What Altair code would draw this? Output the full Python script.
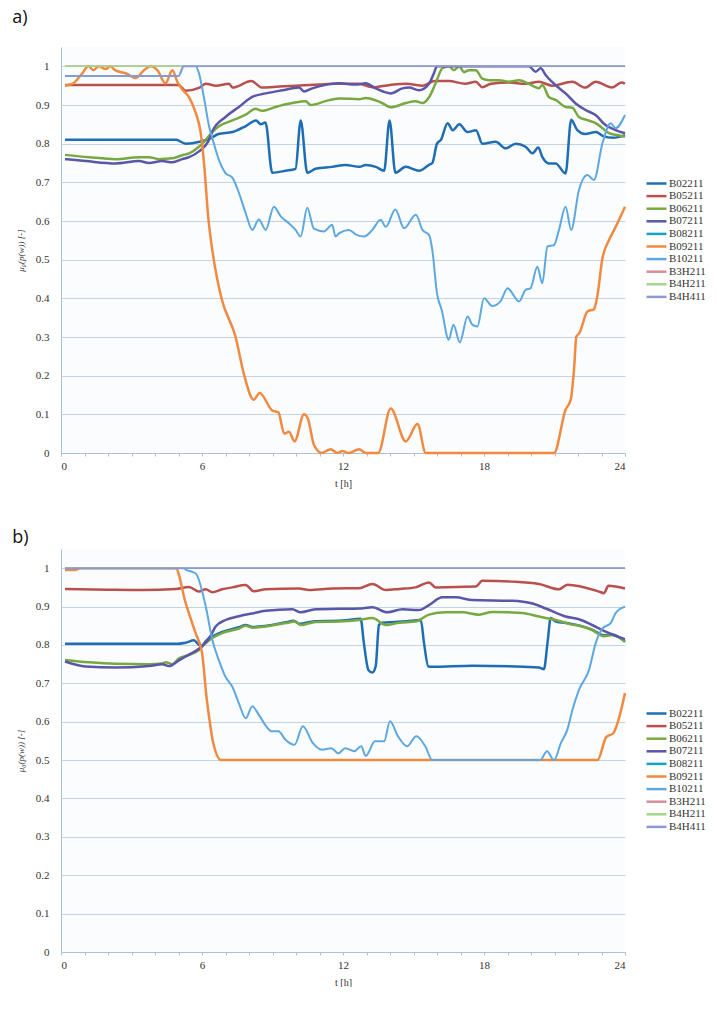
import altair as alt
import pandas as pd

SERIES = ["B02211", "B05211", "B06211", "B07211", "B08211",
          "B09211", "B10211", "B3H211", "B4H211", "B4H411"]
COLORS = ["#1f6db3", "#b9504c", "#78a840", "#5a56a8", "#16a3c0",
          "#f08a40", "#5da8e0", "#d58f9c", "#a5d68c", "#8f98d6"]
WIDTHS = [2.5, 2.5, 2.5, 2.5, 1.2, 2.5, 2.0, 1.5, 1.5, 1.5]

Y_TICKS = [0, 0.1, 0.2, 0.3, 0.4, 0.5, 0.6, 0.7, 0.8, 0.9, 1]
X_TICKS = list(range(0, 25))

# ---------------- panel a) ----------------
A_B02211 = [(0.17, 0.81), (4.9, 0.81), (5.3, 0.80), (5.9, 0.805), (6.4, 0.815), (6.7, 0.825),
            (7.3, 0.83), (7.85, 0.845), (8.3, 0.86), (8.5, 0.85), (8.7, 0.855), (8.99, 0.725),
            (9.56, 0.73), (9.98, 0.735), (10.2, 0.86), (10.48, 0.725), (10.83, 0.735), (11.54, 0.74),
            (12.1, 0.745), (12.7, 0.74), (12.97, 0.745), (13.4, 0.74), (13.75, 0.73), (13.98, 0.86),
            (14.23, 0.725), (14.67, 0.74), (15.24, 0.73), (15.66, 0.745), (15.8, 0.75), (16.0, 0.80),
            (16.17, 0.81), (16.45, 0.853), (16.67, 0.835), (16.95, 0.85), (17.3, 0.83), (17.66, 0.835),
            (17.93, 0.80), (18.5, 0.805), (18.92, 0.788), (19.35, 0.80), (19.77, 0.792), (20.06, 0.775),
            (20.31, 0.79), (20.48, 0.766), (20.77, 0.749), (21.05, 0.749), (21.47, 0.723), (21.71, 0.862),
            (21.97, 0.835), (22.3, 0.825), (22.77, 0.83), (23.05, 0.82), (23.5, 0.815), (24.0, 0.822)]
A_B05211 = [(0.17, 0.952), (5.0, 0.952), (5.3, 0.937), (5.9, 0.945), (6.16, 0.955), (6.6, 0.95),
            (7.15, 0.955), (7.3, 0.945), (8.1, 0.962), (8.56, 0.945), (9.3, 0.948), (10.0, 0.95),
            (11.0, 0.953), (11.54, 0.955), (12.68, 0.955), (13.25, 0.946), (14.0, 0.952), (14.7, 0.955),
            (15.4, 0.95), (15.9, 0.962), (16.5, 0.962), (17.2, 0.955), (17.65, 0.96), (17.93, 0.946),
            (18.3, 0.955), (19.06, 0.958), (19.77, 0.955), (20.34, 0.96), (20.9, 0.95), (21.76, 0.96),
            (22.3, 0.945), (22.75, 0.96), (23.45, 0.945), (23.85, 0.958), (24.0, 0.955)]
A_B06211 = [(0.17, 0.771), (1.19, 0.765), (2.32, 0.76), (3.32, 0.765), (3.74, 0.765), (4.17, 0.76),
            (4.74, 0.762), (5.16, 0.77), (5.45, 0.775), (5.87, 0.792), (6.16, 0.81), (6.44, 0.83),
            (6.72, 0.845), (7.29, 0.86), (7.86, 0.875), (8.28, 0.89), (8.56, 0.885), (9.13, 0.895),
            (9.84, 0.905), (10.41, 0.91), (10.62, 0.9), (11.26, 0.91), (11.83, 0.917), (12.68, 0.915),
            (12.96, 0.918), (13.39, 0.912), (13.67, 0.905), (14.03, 0.894), (14.67, 0.905), (15.09, 0.91),
            (15.38, 0.905), (15.66, 0.92), (15.94, 0.956), (16.23, 0.995), (16.51, 1.0), (16.72, 0.99),
            (16.94, 1.0), (17.15, 0.985), (17.36, 0.99), (17.65, 0.99), (17.93, 0.968), (18.21, 0.964),
            (18.64, 0.964), (19.06, 0.96), (19.49, 0.964), (19.91, 0.955), (20.34, 0.943), (20.48, 0.952),
            (20.77, 0.92), (21.05, 0.913), (21.47, 0.895), (21.76, 0.893), (22.04, 0.869), (22.4, 0.861),
            (22.75, 0.853), (23.04, 0.84), (23.32, 0.827), (23.6, 0.823), (24.0, 0.818)]
A_B07211 = [(0.17, 0.76), (1.05, 0.755), (2.32, 0.749), (3.32, 0.755), (3.74, 0.75), (4.31, 0.755),
            (4.74, 0.752), (5.16, 0.76), (5.45, 0.765), (5.87, 0.78), (6.3, 0.81), (6.44, 0.832),
            (7.0, 0.869), (7.57, 0.895), (8.14, 0.921), (8.71, 0.93), (9.42, 0.938), (10.13, 0.945),
            (10.34, 0.935), (10.69, 0.943), (11.26, 0.952), (11.83, 0.956), (12.54, 0.953), (12.96, 0.956),
            (13.39, 0.943), (14.03, 0.93), (14.53, 0.943), (14.81, 0.945), (15.23, 0.938), (15.66, 0.955),
            (15.87, 0.982), (16.0, 1.0), (19.91, 1.0), (20.2, 0.986), (20.41, 0.995), (20.63, 0.977),
            (21.05, 0.951), (21.47, 0.93), (21.9, 0.904), (22.32, 0.887), (22.75, 0.874), (23.17, 0.848),
            (23.6, 0.835), (24.0, 0.827)]
A_B08211 = [(0.17, 1.0), (24.0, 1.0)]
A_B09211 = [(0.17, 0.95), (0.5, 0.955), (0.88, 0.98), (1.17, 1.0), (1.38, 0.99), (1.6, 1.0),
            (1.9, 0.993), (2.1, 1.0), (2.3, 0.99), (2.75, 0.982), (3.18, 0.97), (3.53, 0.99),
            (3.81, 1.0), (4.1, 0.99), (4.45, 0.956), (4.74, 0.99), (4.95, 0.96), (5.16, 0.94),
            (5.45, 0.92), (5.73, 0.88), (5.94, 0.83), (6.1, 0.74), (6.25, 0.62), (6.5, 0.5),
            (6.83, 0.4), (7.43, 0.3), (7.8, 0.2), (8.2, 0.138), (8.45, 0.155), (8.99, 0.11),
            (9.25, 0.105), (9.5, 0.05), (9.7, 0.055), (9.94, 0.03), (10.34, 0.1), (10.5, 0.09),
            (10.77, 0.02), (11.1, 0.0), (11.47, 0.01), (11.76, 0.0), (11.97, 0.005), (12.25, 0.0),
            (12.68, 0.01), (12.97, 0.0), (13.5, 0.0), (14.03, 0.115), (14.67, 0.03), (15.17, 0.075),
            (15.52, 0.0), (20.98, 0.0), (21.47, 0.112), (21.69, 0.138), (21.83, 0.215), (21.93, 0.301),
            (22.06, 0.31), (22.4, 0.366), (22.68, 0.372), (22.82, 0.405), (23.03, 0.5), (23.32, 0.551),
            (23.54, 0.577), (24.0, 0.637)]
A_B10211 = [(0.17, 0.975), (5.0, 0.975), (5.23, 1.0), (5.73, 1.0), (5.87, 0.982), (6.08, 0.92),
            (6.3, 0.845), (6.5, 0.801), (6.72, 0.758), (7.0, 0.724), (7.29, 0.712), (7.57, 0.673),
            (7.86, 0.62), (8.14, 0.577), (8.42, 0.604), (8.71, 0.577), (9.06, 0.637), (9.35, 0.612),
            (9.7, 0.594), (9.98, 0.577), (10.2, 0.56), (10.48, 0.634), (10.76, 0.58), (11.19, 0.573),
            (11.54, 0.59), (11.68, 0.56), (11.83, 0.568), (12.25, 0.577), (12.55, 0.565), (12.9, 0.56),
            (13.25, 0.577), (13.6, 0.603), (13.82, 0.585), (14.23, 0.63), (14.6, 0.581), (15.1, 0.616),
            (15.38, 0.577), (15.66, 0.564), (15.8, 0.525), (16.0, 0.413), (16.2, 0.37), (16.5, 0.293),
            (16.7, 0.332), (16.97, 0.286), (17.3, 0.353), (17.5, 0.332), (17.72, 0.327), (18.0, 0.4),
            (18.35, 0.38), (18.7, 0.392), (19.0, 0.426), (19.49, 0.392), (19.77, 0.422), (19.98, 0.426),
            (20.27, 0.482), (20.48, 0.439), (20.7, 0.534), (20.98, 0.538), (21.19, 0.577), (21.47, 0.637),
            (21.71, 0.577), (22.04, 0.68), (22.4, 0.719), (22.68, 0.706), (23.04, 0.801), (23.39, 0.853),
            (23.6, 0.84), (24.0, 0.874)]
A_B3H211 = [(0.17, 1.0), (24.0, 1.0)]
A_B4H211 = [(0.17, 1.0), (24.0, 1.0)]
A_B4H411 = [(0.17, 0.975), (5.0, 0.975), (5.2, 1.0), (24.0, 1.0)]

# ---------------- panel b) ----------------
B_B02211 = [(0.17, 0.803), (4.9, 0.803), (5.3, 0.806), (5.66, 0.812), (5.87, 0.8), (6.0, 0.797),
            (6.16, 0.81), (6.44, 0.822), (6.86, 0.834), (7.57, 0.846), (7.86, 0.852), (8.14, 0.847),
            (9.56, 0.859), (9.9, 0.863), (10.13, 0.855), (10.8, 0.862), (11.83, 0.863), (12.5, 0.867),
            (12.75, 0.868), (12.89, 0.804), (13.08, 0.735), (13.25, 0.728), (13.39, 0.744), (13.53, 0.852),
            (13.65, 0.858), (14.2, 0.86), (14.7, 0.862), (15.31, 0.865), (15.45, 0.804), (15.63, 0.744),
            (15.8, 0.743), (17.5, 0.746), (20.34, 0.741), (20.55, 0.737), (20.7, 0.804), (20.84, 0.87),
            (21.05, 0.861), (21.62, 0.856), (22.04, 0.851), (22.6, 0.84), (23.1, 0.825), (23.46, 0.827),
            (24.0, 0.808)]
B_B05211 = [(0.17, 0.946), (2.0, 0.944), (3.5, 0.943), (4.9, 0.946), (5.45, 0.951), (5.87, 0.939),
            (6.16, 0.945), (6.44, 0.937), (6.86, 0.945), (7.29, 0.95), (7.86, 0.956), (8.2, 0.94),
            (8.71, 0.945), (10.13, 0.947), (10.55, 0.943), (11.54, 0.947), (12.68, 0.948), (13.25, 0.959),
            (13.82, 0.943), (14.4, 0.946), (15.09, 0.95), (15.66, 0.963), (15.94, 0.95), (17.65, 0.952),
            (17.93, 0.967), (19.2, 0.965), (20.34, 0.959), (21.19, 0.945), (21.55, 0.957), (22.9, 0.939),
            (23.1, 0.935), (23.3, 0.954), (24.0, 0.947)]
B_B06211 = [(0.17, 0.761), (1.19, 0.755), (2.32, 0.751), (3.74, 0.75), (4.31, 0.752), (4.45, 0.755),
            (4.74, 0.75), (5.02, 0.765), (5.45, 0.774), (5.87, 0.787), (6.08, 0.8), (6.44, 0.818),
            (6.86, 0.831), (7.57, 0.843), (7.86, 0.85), (8.14, 0.845), (9.56, 0.857), (9.98, 0.861),
            (10.2, 0.852), (10.83, 0.86), (11.83, 0.861), (12.68, 0.865), (13.25, 0.87), (13.82, 0.852),
            (14.39, 0.858), (15.09, 0.861), (15.66, 0.879), (16.37, 0.885), (17.08, 0.885), (17.79, 0.879),
            (18.35, 0.886), (19.06, 0.885), (19.63, 0.883), (20.34, 0.874), (21.05, 0.865), (21.62, 0.855),
            (22.04, 0.85), (22.6, 0.839), (23.1, 0.823), (23.46, 0.826), (24.0, 0.809)]
B_B07211 = [(0.17, 0.757), (1.05, 0.744), (2.32, 0.741), (3.74, 0.745), (4.31, 0.75), (4.6, 0.745),
            (5.02, 0.76), (5.45, 0.775), (5.87, 0.79), (6.37, 0.824), (6.58, 0.848), (7.0, 0.865),
            (7.57, 0.875), (8.14, 0.882), (8.71, 0.889), (9.84, 0.893), (10.2, 0.885), (10.83, 0.893),
            (11.83, 0.894), (12.68, 0.895), (13.25, 0.898), (13.89, 0.885), (14.53, 0.893), (15.23, 0.891),
            (15.66, 0.904), (16.23, 0.924), (16.8, 0.924), (17.5, 0.917), (19.2, 0.915), (20.06, 0.908),
            (20.63, 0.895), (21.47, 0.874), (22.04, 0.867), (22.6, 0.852), (23.17, 0.835), (24.0, 0.815)]
B_B08211 = [(0.17, 1.0), (24.0, 1.0)]
B_B09211 = [(0.17, 0.995), (0.6, 0.995), (0.8, 1.0), (4.88, 1.0), (5.3, 0.91), (5.73, 0.83),
            (6.0, 0.78), (6.2, 0.66), (6.33, 0.6), (6.46, 0.55), (6.82, 0.5), (22.83, 0.5),
            (23.2, 0.56), (23.5, 0.57), (23.7, 0.6), (24.0, 0.675)]
B_B10211 = [(0.17, 1.0), (5.2, 1.0), (5.35, 0.995), (5.6, 0.99), (5.75, 0.985), (6.16, 0.9),
            (6.44, 0.813), (6.72, 0.76), (7.0, 0.717), (7.29, 0.691), (7.57, 0.648), (7.86, 0.609),
            (8.14, 0.64), (8.42, 0.618), (8.71, 0.59), (8.96, 0.575), (9.25, 0.575), (9.55, 0.553),
            (9.94, 0.54), (10.29, 0.588), (10.72, 0.544), (11.1, 0.527), (11.5, 0.531), (11.8, 0.518),
            (12.1, 0.531), (12.48, 0.523), (12.77, 0.536), (12.97, 0.511), (13.36, 0.549), (13.75, 0.549),
            (14.0, 0.601), (14.34, 0.562), (14.73, 0.536), (15.12, 0.562), (15.5, 0.536), (15.8, 0.5),
            (20.39, 0.5), (20.68, 0.523), (20.98, 0.5), (21.27, 0.544), (21.55, 0.58), (21.76, 0.63),
            (22.04, 0.683), (22.47, 0.735), (22.75, 0.804), (23.04, 0.843), (23.39, 0.857), (23.6, 0.883),
            (24.0, 0.9)]
B_B3H211 = [(0.17, 1.0), (24.0, 1.0)]
B_B4H211 = [(0.17, 1.0), (24.0, 1.0)]
B_B4H411 = [(0.17, 1.0), (24.0, 1.0)]

PANEL_A = dict(zip(SERIES, [A_B02211, A_B05211, A_B06211, A_B07211, A_B08211,
                            A_B09211, A_B10211, A_B3H211, A_B4H211, A_B4H411]))
PANEL_B = dict(zip(SERIES, [B_B02211, B_B05211, B_B06211, B_B07211, B_B08211,
                            B_B09211, B_B10211, B_B3H211, B_B4H211, B_B4H411]))

SERIF = "Liberation Serif"
GRID = "#c2d4e4"
AXIS = "#a9c2d8"


def make_panel(data, label, height, title_offset, legend_y):
    x_axis = alt.Axis(values=X_TICKS, grid=False, labelExpr="datum.value % 6 == 0 ? datum.label : ''",
                      labelFont=SERIF, labelFontSize=11, labelColor="#333333", labelPadding=4,
                      tickSize=3, tickColor=AXIS, domainColor=AXIS, title="t [h]",
                      titleFont=SERIF, titleFontSize=10, titleFontWeight="normal",
                      titleColor="#333333", titlePadding=7)
    y_axis = alt.Axis(values=Y_TICKS, format="~g", grid=True, gridColor=GRID, ticks=False,
                      domainColor=AXIS, labelFont=SERIF, labelFontSize=11, labelColor="#333333",
                      labelPadding=12, title="μ₀(p(w)) [-]", titleFont=SERIF, titleFontSize=9,
                      titleFontStyle="italic", titleFontWeight="normal", titleColor="#333333",
                      titlePadding=10)
    legend = alt.Legend(title=None, orient="none", legendX=589, legendY=legend_y, padding=0,
                        labelFont=SERIF, labelFontSize=11, labelColor="#333333",
                        symbolType="M-2,0L2,0", symbolStrokeWidth=2.5, symbolSize=100,
                        rowPadding=0.6, labelOffset=6)
    layers = []
    for name, w in zip(SERIES, WIDTHS):
        df = pd.DataFrame(data[name], columns=["t", "v"])
        df["series"] = name
        layers.append(
            alt.Chart(df).mark_line(interpolate="monotone", strokeWidth=w).encode(
                x=alt.X("t:Q", scale=alt.Scale(domain=[0, 24], nice=False), axis=x_axis),
                y=alt.Y("v:Q", scale=alt.Scale(domain=[0, 1.05], nice=False), axis=y_axis),
                color=alt.Color("series:N", scale=alt.Scale(domain=SERIES, range=COLORS),
                                legend=legend),
            )
        )
    return alt.layer(*layers).properties(
        width=564, height=height,
        title=alt.TitleParams(label, anchor="start", frame="bounds", dx=-4, font="Open Sans",
                              fontSize=18, fontWeight="normal", color="#111111",
                              offset=title_offset),
    )


chart = alt.vconcat(
    make_panel(PANEL_A, "a)", 406, 20, 130),
    make_panel(PANEL_B, "b)", 403, 2, 158),
    spacing=41,
).resolve_scale(color="independent").resolve_legend(color="independent").properties(
    padding={"left": 12, "top": 9, "right": 0, "bottom": 0},
    background="white",
).configure_view(stroke=None, fill="#fbfcfe")

chart.save("out.html", embed_options={"renderer": "svg", "actions": False})
